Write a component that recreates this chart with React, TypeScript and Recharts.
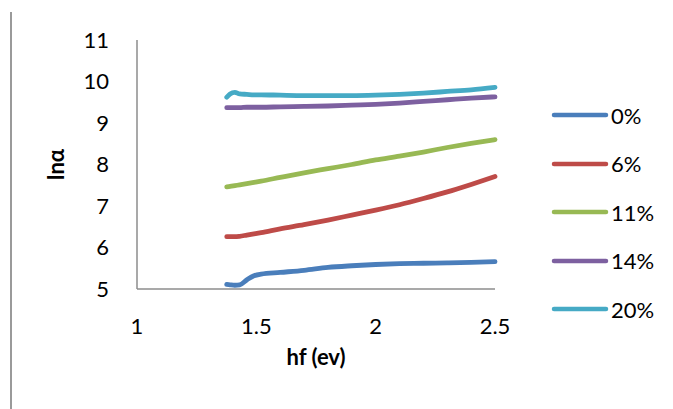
import React from 'react';
import { LineChart, Line, XAxis, YAxis } from 'recharts';

const hf = [1.376, 1.39, 1.41, 1.43, 1.46, 1.49, 1.52, 1.6, 1.7, 1.8, 1.9, 2.0, 2.1, 2.2, 2.3, 2.4, 2.5];
const s0 = [5.11, 5.1, 5.09, 5.1, 5.22, 5.32, 5.36, 5.4, 5.45, 5.52, 5.56, 5.59, 5.61, 5.62, 5.63, 5.64, 5.66];
const s6 = [6.26, 6.26, 6.26, 6.27, 6.3, 6.33, 6.36, 6.45, 6.55, 6.66, 6.78, 6.9, 7.03, 7.18, 7.34, 7.52, 7.71];
const s11 = [7.46, 7.47, 7.49, 7.51, 7.54, 7.57, 7.6, 7.69, 7.8, 7.9, 8.0, 8.11, 8.2, 8.3, 8.41, 8.51, 8.6];
const s14 = [9.37, 9.37, 9.37, 9.37, 9.38, 9.38, 9.38, 9.39, 9.4, 9.41, 9.43, 9.45, 9.48, 9.52, 9.56, 9.6, 9.63];
const s20 = [9.62, 9.7, 9.74, 9.7, 9.69, 9.68, 9.68, 9.67, 9.66, 9.66, 9.66, 9.67, 9.69, 9.72, 9.76, 9.8, 9.86];

const seriesNames = ['0%', '6%', '11%', '14%', '20%'];
const seriesValues = [s0, s6, s11, s14, s20];
const colors = ['#4A7EBB', '#BE4B48', '#98B954', '#7D60A0', '#46AAC5'];
const xTicks = [1, 1.5, 2, 2.5];
const yTicks = [5, 6, 7, 8, 9, 10, 11];

const data = hf.map((x, i) => {
  const row: any = { hf: x };
  seriesNames.forEach((n, k) => {
    row[n] = seriesValues[k][i];
  });
  return row;
});

const FONT = 'Lato, "Open Sans", sans-serif';
const FS = 22;

const LegendBox = () => (
  <div style={{ position: 'absolute', left: 548, top: 91, width: 125, fontFamily: FONT, fontSize: FS, color: '#000' }}>
    {seriesNames.map((n, i) => (
      <div key={n} style={{ display: 'flex', alignItems: 'center', height: 48.5 }}>
        <svg width={63} height={10} style={{ display: 'block' }}>
          <line x1={6} y1={5} x2={58} y2={5} stroke={colors[i]} strokeWidth={4.5} strokeLinecap="round" />
        </svg>
        <span>{n}</span>
      </div>
    ))}
  </div>
);

export default function App() {
  return (
    <div style={{ position: 'absolute', left: 0, top: 0, width: 673, height: 409, background: '#fff' }}>
      <div style={{ position: 'absolute', left: 10, top: 12, width: 2, height: 397, background: '#9a9a9a' }} />
      <LineChart
        width={673}
        height={409}
        data={data}
        margin={{ top: 40, right: 178, bottom: 0, left: 0 }}
        style={{ fontFamily: FONT }}
      >
        <XAxis
          dataKey="hf"
          type="number"
          domain={[1, 2.5]}
          ticks={xTicks}
          tickLine={false}
          axisLine={{ stroke: '#8c8c8c', strokeWidth: 1.5 }}
          tick={{ fill: '#000', fontSize: FS, fontFamily: FONT }}
          tickMargin={23}
          interval={0}
          height={120}
          label={{ value: 'hf (ev)', position: 'insideTop', offset: 60, fill: '#000', fontSize: FS, fontWeight: 'bold', fontFamily: FONT }}
        />
        <YAxis
          type="number"
          domain={[5, 11]}
          ticks={yTicks}
          tickLine={false}
          axisLine={{ stroke: '#8c8c8c', strokeWidth: 1.5 }}
          tick={{ fill: '#000', fontSize: FS, fontFamily: FONT }}
          tickMargin={22}
          interval={0}
          width={137}
          label={{ value: 'lnα', angle: -90, position: 'insideLeft', offset: 56, fill: '#000', fontSize: FS, fontWeight: 'bold', fontFamily: FONT, style: { textAnchor: 'middle' } }}
        />
        {seriesNames.map((n, i) => (
          <Line
            key={n}
            dataKey={n}
            type="monotone"
            stroke={colors[i]}
            strokeWidth={4.8}
            strokeLinecap="round"
            dot={false}
            activeDot={false}
            isAnimationActive={false}
          />
        ))}
      </LineChart>
      <LegendBox />
    </div>
  );
}
